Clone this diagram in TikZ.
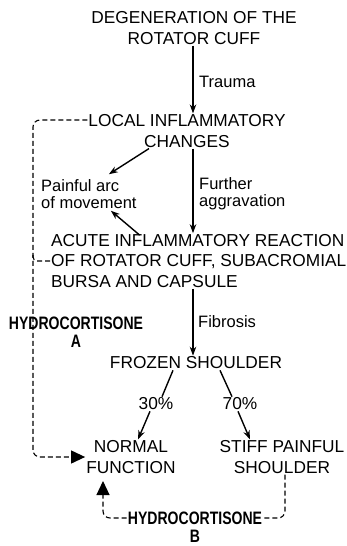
\documentclass[tikz,border=0pt]{standalone}
\usepackage{fontspec}
\setmainfont{Liberation Sans}
\newfontfamily\hydro[FakeStretch=0.78]{Liberation Sans Bold}
\usetikzlibrary{arrows.meta}
\begin{document}
\begin{tikzpicture}[x=1pt,y=-1pt,
 txt/.style={font=\fontsize{17.3}{20.5}\selectfont, align=center, inner sep=1pt},
 lbl/.style={font=\fontsize{16.5}{17}\selectfont, align=left, inner sep=1pt},
 hyd/.style={font=\hydro\fontsize{18}{18}\selectfont, align=center, inner sep=1pt},
 arr/.style={line width=1.4pt, -{Stealth[length=9pt,width=6.5pt]}},
 ln/.style={line width=1.4pt},
 dsh/.style={line width=1.1pt, dash pattern=on 5pt off 3pt, rounded corners=7pt},
 big/.style={-{Triangle[length=14pt,width=13pt]}}]
\useasboundingbox (0,0) rectangle (347,546);
\coordinate (trunk) at (193,0);
\coordinate (nb) at (103,481);

\node[txt] (deg) at (194,28) {DEGENERATION OF THE\\ROTATOR CUFF};
\node[txt] (local) at (187,131) {LOCAL INFLAMMATORY\\CHANGES};
\node[lbl, anchor=west] (trauma) at (198,82) {Trauma};
\node[lbl, anchor=west] (painful) at (40,194) {Painful arc\\of movement};
\node[lbl, anchor=west] (further) at (198,194) {Further\\aggravation};
\node[txt, align=left, anchor=west] (acute) at (50,261) {ACUTE INFLAMMATORY REACTION\\OF ROTATOR CUFF, SUBACROMIAL\\BURSA AND CAPSULE};
\node[lbl, anchor=west] (fib) at (197,322) {Fibrosis};
\node[hyd] (hydA) at (76,332) {HYDROCORTISONE\\A};
\node[txt] (frozen) at (196,363) {FROZEN SHOULDER};
\node[txt] (p30) at (156,404) {30\%};
\node[txt] (p70) at (240,404) {70\%};
\node[txt] (normal) at (131,457) {NORMAL\\FUNCTION};
\node[txt] (stiff) at (282,457) {STIFF PAINFUL\\SHOULDER};
\node[hyd] (hydB) at (195,527) {HYDROCORTISONE\\B};

\draw[arr] (deg.south -| trunk) -- (local.north -| trunk);
\draw[arr] (local.south -| trunk) -- (acute.north -| trunk);
\draw[arr] (acute.south -| trunk) -- (frozen.north -| trunk);
\draw[arr] ([xshift=-38pt]local.south) -- ([xshift=20pt,yshift=4pt]painful.north);
\draw[arr] ([xshift=-59pt,yshift=-2pt]acute.north) -- ([xshift=22pt,yshift=-1pt]painful.south);
\draw[ln] ([xshift=-23pt]frozen.south) -- ([xshift=6pt]p30.north);
\draw[ln] ([xshift=24pt]frozen.south) -- ([xshift=-8pt]p70.north);
\draw[arr] ([xshift=-6pt]p30.south) -- ([xshift=7pt]normal.north);
\draw[arr] ([xshift=-2pt]p70.south) -- ([xshift=-32pt]stiff.north);

\draw[dsh, big] ([yshift=11pt]local.west) -- (33,120) -- (33,457) -- (normal.west);
\draw[dsh, rounded corners=4pt] (acute.west) -- (33,261) -- (33,254);
\draw[dsh] ([xshift=3pt]stiff.south) -- (285,518) -- ([yshift=9pt]hydB.east);
\draw[dsh, big] ([yshift=9pt]hydB.west) -- (103,518) -- (nb);
\end{tikzpicture}
\end{document}
